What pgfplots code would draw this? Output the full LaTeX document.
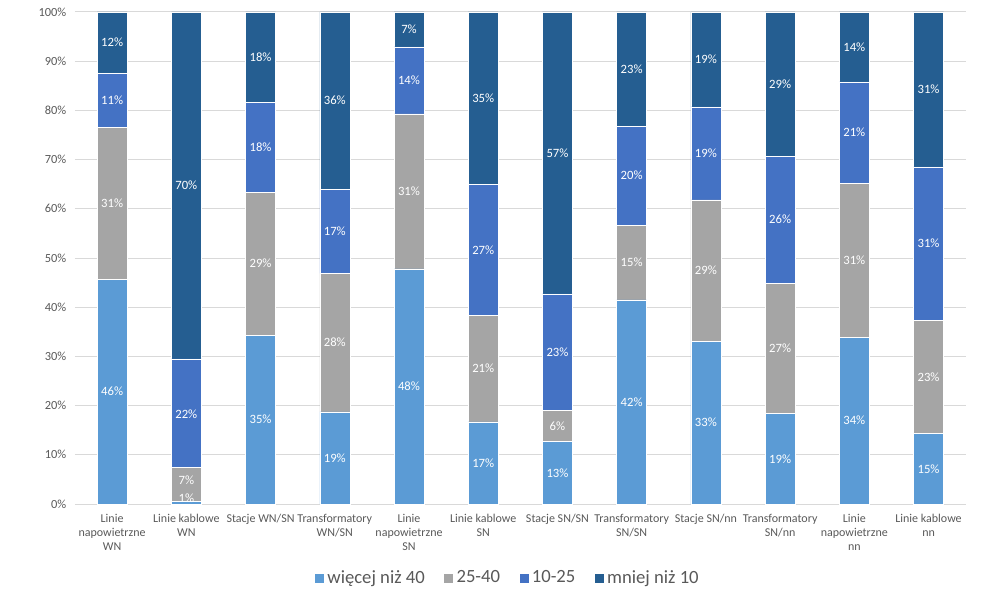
\documentclass[border=0pt]{standalone}
\usepackage{pgfplots}
\pgfplotsset{compat=1.18}
\usepackage{fontspec}
\setmainfont{Carlito}
\definecolor{c1}{HTML}{5B9BD5}
\definecolor{c2}{HTML}{A5A5A5}
\definecolor{c3}{HTML}{4472C4}
\definecolor{c4}{HTML}{255E91}
\definecolor{txt}{HTML}{595959}
\definecolor{grd}{HTML}{D9D9D9}
\pgfplotsset{base/.style={width=668pt,height=369pt,scale only axis,
  xmin=-0.5,xmax=11.5,ymin=0,ymax=100}}
\begin{document}
\begin{tikzpicture}
\begin{axis}[base,
    ybar stacked,
    bar width=22.5pt,
    axis line style={draw=none},
    ymajorgrids, grid style={grd, line width=0.75pt},
    major tick length=0pt,
    ytick={0,10,...,100},
    yticklabel={\pgfmathprintnumber{\tick}\%},
    /pgf/number format/assume math mode=true,
    yticklabel style={font=\fontsize{9.3}{10}\selectfont, text=txt, xshift=-3pt},
    xtick={0,...,11},
    xticklabels={{Linie\\napowietrzne\\WN},{Linie kablowe\\WN},{Stacje WN/SN},{Transformatory\\WN/SN},{Linie\\napowietrzne\\SN},{Linie kablowe\\SN},{Stacje SN/SN},{Transformatory\\SN/SN},{Stacje SN/nn},{Transformatory\\SN/nn},{Linie\\napowietrzne\\nn},{Linie kablowe\\nn}},
    xticklabel style={align=center, font=\fontsize{9}{10.5}\selectfont, text=txt, yshift=-4pt},
    legend style={at={(0.486,-0.15)}, anchor=center, draw=none,
      legend columns=-1, font=\fontsize{14}{16}\selectfont, text=txt,
      /tikz/every even column/.append style={column sep=12pt}},
    legend image code/.code={\fill[#1] (0pt,-3.75pt) rectangle (7.5pt,3.75pt);},
  ]
\addplot[fill=c1, draw=white, line width=0.3pt] coordinates {
(0,45.7) (1,0.5) (2,34.3) (3,18.7) (4,47.8) (5,16.7)
(6,12.7) (7,41.5) (8,33.1) (9,18.4) (10,33.9) (11,14.3)};
\addplot[fill=c2, draw=white, line width=0.3pt] coordinates {
(0,30.9) (1,6.9) (2,29.1) (3,28.2) (4,31.5) (5,21.6)
(6,6.3) (7,15.2) (8,28.7) (9,26.5) (10,31.3) (11,23.0)};
\addplot[fill=c3, draw=white, line width=0.3pt] coordinates {
(0,11.0) (1,22.1) (2,18.3) (3,17.1) (4,13.6) (5,26.7)
(6,23.7) (7,20.1) (8,18.9) (9,25.8) (10,20.6) (11,31.2)};
\addplot[fill=c4, draw=white, line width=0.3pt] coordinates {
(0,12.4) (1,70.5) (2,18.3) (3,36.0) (4,7.1) (5,35.0)
(6,57.3) (7,23.2) (8,19.3) (9,29.3) (10,14.2) (11,31.5)};
\legend{więcej niż 40,25-40,10-25,mniej niż 10}
\end{axis}
\begin{axis}[base, hide axis, clip=false]
\addplot[only marks, mark=none, nodes near coords, point meta=explicit symbolic,
  every node near coord/.style={anchor=center, text=white, font=\fontsize{9.5}{10}\selectfont}]
  table[meta=l] {
x y l
0 22.85 46\%
0 61.15 31\%
0 82.1 11\%
0 93.8 12\%
1 1.2 1\%
1 4.9 7\%
1 18.3 22\%
1 64.7 70\%
2 17.15 35\%
2 48.85 29\%
2 72.55 18\%
2 90.85 18\%
3 9.35 19\%
3 32.8 28\%
3 55.45 17\%
3 82.0 36\%
4 23.9 48\%
4 63.55 31\%
4 86.1 14\%
4 96.45 7\%
5 8.35 17\%
5 27.5 21\%
5 51.65 27\%
5 82.5 35\%
6 6.35 13\%
6 15.85 6\%
6 30.85 23\%
6 71.35 57\%
7 20.75 42\%
7 49.1 15\%
7 66.75 20\%
7 88.4 23\%
8 16.55 33\%
8 47.45 29\%
8 71.25 19\%
8 90.35 19\%
9 9.2 19\%
9 31.65 27\%
9 57.8 26\%
9 85.35 29\%
10 16.95 34\%
10 49.55 31\%
10 75.5 21\%
10 92.9 14\%
11 7.15 15\%
11 25.8 23\%
11 52.9 31\%
11 84.25 31\%
};
\end{axis}
\pgfresetboundingbox
\useasboundingbox (-56.25pt,-69pt) rectangle (689.25pt,378pt);
\end{tikzpicture}
\end{document}
